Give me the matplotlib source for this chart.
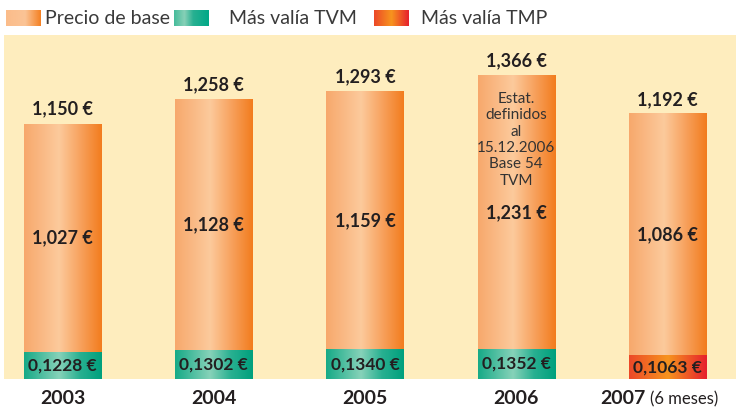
import matplotlib
matplotlib.use("Agg")
import matplotlib.pyplot as plt
import numpy as np

years = ["2003", "2004", "2005", "2006", "2007"]
precio_base = [1.027, 1.128, 1.159, 1.231, 1.086]
plusvalia = [0.1228, 0.1302, 0.1340, 0.1352, 0.1063]
totales = [1.150, 1.258, 1.293, 1.366, 1.192]
tipo = ["TVM", "TVM", "TVM", "TVM", "TMP"]
nota = "Estat.\ndefinidos\nal\n15.12.2006\nBase 54\nTVM"
legend_labels = ["Precio de base", "Más valía TVM", "Más valía TMP"]

FONT = ["Lato", "DejaVu Sans"]
DARK = "#231f20"
PANEL = "#feedbe"

# horizontal gradient stops (position, rgb)
ORANGE = [(0, (247, 168, 108)), (0.45, (252, 202, 156)), (0.75, (247, 158, 88)), (1, (242, 124, 30))]
GREEN = [(0, (22, 170, 135)), (0.45, (135, 210, 185)), (0.72, (40, 176, 145)), (1, (0, 160, 125))]
RED = [(0, (236, 72, 40)), (0.5, (247, 148, 30)), (1, (230, 32, 45))]
LEG_ORANGE = [(0, (251, 188, 138)), (0.55, (251, 196, 150)), (1, (244, 128, 34))]
LEG_GREEN = [(0, (70, 188, 155)), (0.3, (135, 208, 183)), (0.55, (40, 176, 145)), (1, (0, 168, 135))]


def gradient(stops):
    pos = [s[0] for s in stops]
    cols = np.array([s[1] for s in stops]) / 255
    xs = np.linspace(0, 1, 200)
    img = np.stack([np.interp(xs, pos, cols[:, i]) for i in range(3)], axis=-1)
    return img[np.newaxis, :, :]


def fill_gradient(ax, patch, stops):
    x0, y0 = patch.get_x(), patch.get_y()
    w, h = patch.get_width(), patch.get_height()
    ax.imshow(gradient(stops), extent=(x0, x0 + w, y0, y0 + h), aspect="auto",
              zorder=2, interpolation="bilinear")


def euro(v, dec):
    return f"{v:.{dec}f}".replace(".", ",") + " €"


fig = plt.figure(figsize=(7.36, 4.09), dpi=100)
ax = fig.add_axes([4 / 736, 30 / 409, 732 / 736, 344 / 409])
ax.set_facecolor(PANEL)
for s in ax.spines.values():
    s.set_visible(False)

x = np.arange(len(years))
w = 0.51
low = ax.bar(x, plusvalia, w, color="none", zorder=2)
high = ax.bar(x, precio_base, w, bottom=plusvalia, color="none", zorder=2)
for i in range(len(years)):
    fill_gradient(ax, low[i], GREEN if tipo[i] == "TVM" else RED)
    fill_gradient(ax, high[i], ORANGE)

ax.set_xlim(-0.387, 4.453)
ax.set_ylim(0, 1.55)
ax.set_xticks([])
ax.set_yticks([])

for i in range(len(years)):
    ax.annotate(euro(totales[i], 3), (x[i], plusvalia[i] + precio_base[i]), xytext=(0, 15),
                textcoords="offset pixels", ha="center", va="center", fontsize=13,
                fontweight="bold", family=FONT, color=DARK, zorder=3)
    ax.text(x[i], plusvalia[i] + precio_base[i] / 2, euro(precio_base[i], 3), ha="center",
            va="center", fontsize=13, fontweight="bold", family=FONT, color=DARK, zorder=3)
    ax.text(x[i], plusvalia[i] / 2, euro(plusvalia[i], 4), ha="center", va="center",
            fontsize=12.5, fontweight="bold", family=FONT, color=DARK, zorder=3)

# year labels below the panel
for i in range(4):
    ax.annotate(years[i], (x[i], 0), xytext=(0, -20), textcoords="offset pixels",
                ha="center", va="center", fontsize=14, fontweight="bold", family=FONT,
                color=DARK, annotation_clip=False)
ax.annotate(years[4], (x[4], 0), xytext=(-22, -20), textcoords="offset pixels",
            ha="right", va="center", fontsize=14, fontweight="bold", family=FONT,
            color=DARK, annotation_clip=False)
ax.annotate("(6 meses)", (x[4], 0), xytext=(-17, -20), textcoords="offset pixels",
            ha="left", va="center", fontsize=12, family=FONT, color=DARK,
            annotation_clip=False)

# note inside the 2006 bar
ax.annotate(nota, (x[3], plusvalia[3] + precio_base[3]), xytext=(0, -16),
            textcoords="offset pixels", ha="center", va="top", fontsize=11,
            family=FONT, color="#333333", linespacing=1.22, zorder=3)

# legend strip on top
lg = fig.add_axes([0, 1 - 35 / 409, 1, 35 / 409])
lg.set_xlim(0, 736)
lg.set_ylim(35, 0)
lg.axis("off")
swatches = [(6, LEG_ORANGE), (174, LEG_GREEN), (373.5, RED)]
text_x = [45, 229, 421]
for (sx, stops), tx, lab in zip(swatches, text_x, legend_labels):
    lg.imshow(gradient(stops), extent=(sx, sx + 34.5, 26, 10), aspect="auto",
              interpolation="bilinear")
    lg.text(tx, 18, lab, ha="left", va="center", fontsize=14, family=FONT, color="#3a3a3a")
lg.set_xlim(0, 736)
lg.set_ylim(35, 0)

fig.savefig("out.png", dpi=100)
